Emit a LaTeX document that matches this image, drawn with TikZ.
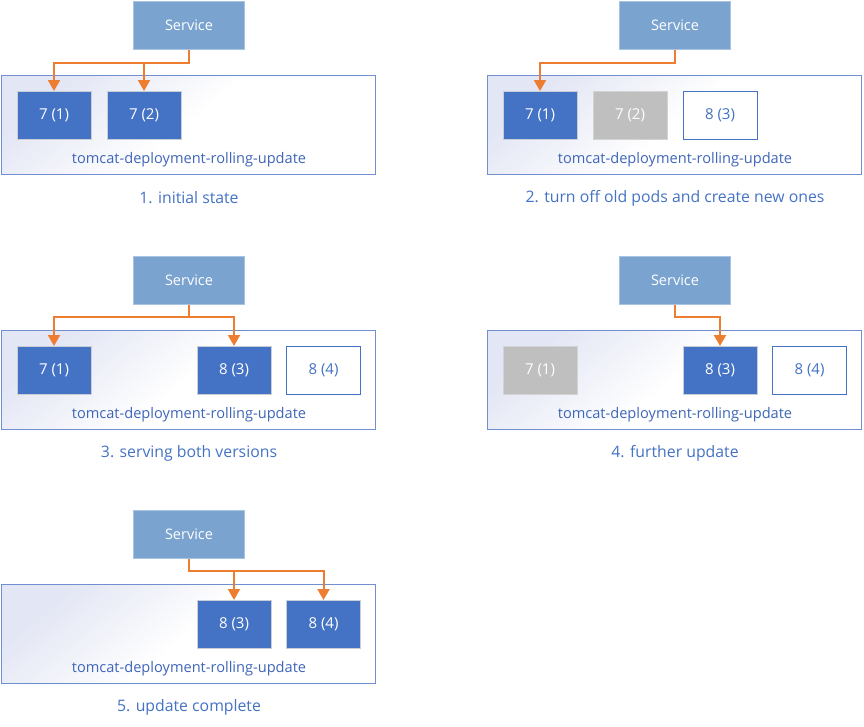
\documentclass[tikz,border=0pt]{standalone}
\usepackage{fontspec}
\setmainfont{Open Sans}
\usetikzlibrary{arrows.meta}
\usetikzlibrary{positioning}

\definecolor{svcfill}{HTML}{7AA3CF}
\definecolor{svcline}{HTML}{A9C4E2}
\definecolor{podblue}{HTML}{4472C4}
\definecolor{podline}{HTML}{C9CDD6}
\definecolor{podgray}{HTML}{BFBFBF}
\definecolor{grayline}{HTML}{D3D3D3}
\definecolor{depline}{HTML}{6F8FD0}
\definecolor{depfill}{HTML}{E3E6F4}
\definecolor{routeorange}{HTML}{ED7D31}
\definecolor{textblue}{HTML}{3F66B8}

\begin{document}
\begin{tikzpicture}[x=1pt, y=-1pt, >={Triangle[length=11pt,width=12pt]},
                    font=\fontsize{15}{17}\selectfont,
                    service/.style = {rectangle, draw=svcline, fill=svcfill, text=white,
                                      font=\fontsize{14.5}{17}\selectfont,
                                      line width=1pt, minimum width=111pt, minimum height=48pt},
                    deployment/.style = {rectangle, draw=depline, line width=1pt,
                                         top color=depfill, bottom color=white, middle color=white,
                                         shading angle=40, minimum width=374pt, minimum height=99pt},
                    pod/.style = {rectangle, line width=1pt, minimum width=74pt, minimum height=48pt},
                    running/.style = {pod, draw=podline, fill=podblue, text=white},
                    stopped/.style = {pod, draw=grayline, fill=podgray, text=white},
                    created/.style = {pod, draw=podblue, fill=white, text=podblue},
                    deplabel/.style = {text=textblue, font=\fontsize{14.6}{17}\selectfont},
                    caption/.style = {text=podblue, font=\fontsize{15.8}{18}\selectfont},
                    route/.style = {->, draw=routeorange, line width=2pt}]
  \useasboundingbox (0,0) rectangle (864,726);

  % 1. initial state
  \begin{scope}[shift={(0,0)}]
    \node [deployment] (dep1) at (188.5,125) {};
    \node [service] (svc1) at (189,25.5) {Service};
    \node [running] (p1a) at (54,115.5) {7 (1)};
    \node [running] (p1b) at (144,115.5) {7 (2)};
    \node [deplabel] (name1) at (189,159.5) {tomcat-deployment-rolling-update};
    \node [caption] (cap1) at (189,198) {1. initial state};
    \draw [route] (svc1.south) -- ++(0,13) -| (p1a.north);
    \draw [route] (svc1.south) -- ++(0,13) -| (p1b.north);
  \end{scope}

  % 2. turn off old pods
  \begin{scope}[shift={(486,0)}]
    \node [deployment] (dep2) at (188.5,125) {};
    \node [service] (svc2) at (189,25.5) {Service};
    \node [running] (p2a) at (54,115.5) {7 (1)};
    \node [stopped] (p2b) at (144,115.5) {7 (2)};
    \node [created] (p2c) at (234,115.5) {8 (3)};
    \node [deplabel] (name2) at (189,159.5) {tomcat-deployment-rolling-update};
    \node [caption] (cap2) at (189,198) {2. turn off old pods and create new ones};
    \draw [route] (svc2.south) -- ++(0,13) -| (p2a.north);
  \end{scope}

  % 3. serving both versions
  \begin{scope}[shift={(0,255)}]
    \node [deployment] (dep3) at (188.5,125) {};
    \node [service] (svc3) at (189,25.5) {Service};
    \node [running] (p3a) at (54,115.5) {7 (1)};
    \node [running] (p3c) at (234,115.5) {8 (3)};
    \node [created] (p3d) at (323.5,115.5) {8 (4)};
    \node [deplabel] (name3) at (189,159.5) {tomcat-deployment-rolling-update};
    \node [caption] (cap3) at (189,198) {3. serving both versions};
    \draw [route] (svc3.south) -- ++(0,12) -| (p3a.north);
    \draw [route] (svc3.south) -- ++(0,12) -| (p3c.north);
  \end{scope}

  % 4. further update
  \begin{scope}[shift={(486,255)}]
    \node [deployment] (dep4) at (188.5,125) {};
    \node [service] (svc4) at (189,25.5) {Service};
    \node [stopped] (p4a) at (54,115.5) {7 (1)};
    \node [running] (p4c) at (234,115.5) {8 (3)};
    \node [created] (p4d) at (323.5,115.5) {8 (4)};
    \node [deplabel] (name4) at (189,159.5) {tomcat-deployment-rolling-update};
    \node [caption] (cap4) at (189,198) {4. further update};
    \draw [route] (svc4.south) -- ++(0,12) -| (p4c.north);
  \end{scope}

  % 5. update complete
  \begin{scope}[shift={(0,509)}]
    \node [deployment] (dep5) at (188.5,125) {};
    \node [service] (svc5) at (189,25.5) {Service};
    \node [running] (p5c) at (234,115.5) {8 (3)};
    \node [running] (p5d) at (323.5,115.5) {8 (4)};
    \node [deplabel] (name5) at (189,159.5) {tomcat-deployment-rolling-update};
    \node [caption] (cap5) at (189,198) {5. update complete};
    \draw [route] (svc5.south) -- ++(0,12) -| (p5c.north);
    \draw [route] (svc5.south) -- ++(0,12) -| (p5d.north);
  \end{scope}
\end{tikzpicture}
\end{document}
